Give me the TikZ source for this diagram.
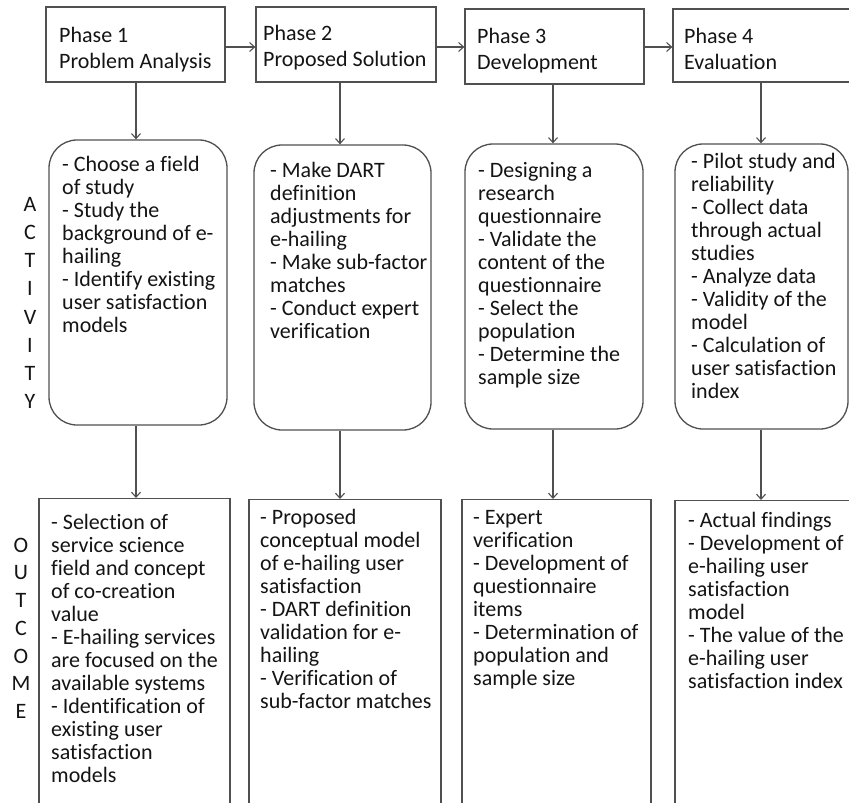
\documentclass[tikz,border=0pt]{standalone}
\usepackage{fontspec}
\setmainfont{Carlito}[Ligatures=NoCommon]
\usetikzlibrary{arrows.meta}
\definecolor{linegray}{RGB}{80,80,80}
\definecolor{txtcol}{RGB}{20,20,20}
\tikzset{
  phasebox/.style={draw=linegray, line width=1.3pt, rectangle, inner sep=0pt},
  actbox/.style={draw=linegray, line width=1.3pt, rectangle, rounded corners=28pt, inner sep=0pt},
  outbox/.style={draw=linegray, line width=1.3pt, rectangle, inner sep=0pt},
  boxtxt/.style={anchor=north west, inner sep=0pt, align=left, text=txtcol, font=\fontsize{22}{23}\selectfont},
  phasetxt/.style={anchor=north west, inner sep=0pt, align=left, text=txtcol, font=\fontsize{22}{26}\selectfont},
  sidetxt/.style={anchor=north, inner sep=0pt, align=center, text=txtcol},
  arr/.style={draw=linegray, line width=1.1pt, -{Straight Barb[length=5pt,width=9pt,line width=1.1pt]}}
}
\begin{document}
\begin{tikzpicture}[x=1pt,y=-1pt]
\useasboundingbox (0,0) rectangle (849,803);
\clip (0,0) rectangle (849,803);
\fill[white] (0,0) rectangle (849,803);

% column and row helpers
\coordinate (c1) at (136,0);
\coordinate (c2) at (340,0);
\coordinate (c3) at (553,0);
\coordinate (c4) at (761,0);
\coordinate (row) at (0,47);

% phase boxes
\node[phasebox, minimum width=179pt, minimum height=75pt] (p1) at (135.5,44.5) {};
\node[phasebox, minimum width=180pt, minimum height=75pt] (p2) at (346,44.5) {};
\node[phasebox, minimum width=179pt, minimum height=75pt] (p3) at (554.5,46.5) {};
\node[phasebox, minimum width=190pt, minimum height=73pt] (p4) at (768,45.5) {};

\node[phasetxt] (pt1) at (59,42-18.2) {\strut Phase 1\\Problem Analysis};
\node[phasetxt] (pt2) at (263,40-18.2) {\strut Phase 2\\Proposed Solution};
\node[phasetxt] (pt3) at (477,43-18.2) {\strut Phase 3\\Development};
\node[phasetxt] (pt4) at (684,43-18.2) {\strut Phase 4\\Evaluation};

% activity boxes
\node[actbox, minimum width=178pt, minimum height=285pt] (a1) at (138,282.5) {};
\node[actbox, minimum width=177pt, minimum height=285pt] (a2) at (342.5,287.5) {};
\node[actbox, minimum width=178pt, minimum height=285pt] (a3) at (554,286.5) {};
\node[actbox, minimum width=173pt, minimum height=285pt] (a4) at (761.5,286.5) {};

\node[boxtxt] (at1) at (62,171-16.1) {\strut - Choose a field\\of study\\- Study the\\background of e-\\hailing\\- Identify existing\\user satisfaction\\models};
\node[boxtxt] (at2) at (270,177-16.1) {\strut - Make DART\\definition\\adjustments for\\e-hailing\\- Make sub-factor\\matches\\- Conduct expert\\verification};
\node[boxtxt] (at3) at (478,177-16.1) {\strut - Designing a\\research\\questionnaire\\- Validate the\\content of the\\questionnaire\\- Select the\\population\\- Determine the\\sample size};
\node[boxtxt] (at4) at (691,168-16.1) {\strut - Pilot study and\\reliability\\- Collect data\\through actual\\studies\\- Analyze data\\- Validity of the\\model\\- Calculation of\\user satisfaction\\index};

% outcome boxes (open at the bottom of the picture)
\node[outbox, minimum width=191pt, minimum height=340pt, anchor=north] (o1) at (134.5,498) {};
\node[outbox, minimum width=192pt, minimum height=340pt, anchor=north] (o2) at (345,499) {};
\node[outbox, minimum width=189pt, minimum height=340pt, anchor=north] (o3) at (556.5,499) {};
\node[outbox, minimum width=200pt, minimum height=340pt, anchor=north] (o4) at (775,500) {};

\node[boxtxt] (ot1) at (51,529-16.1) {\strut - Selection of\\service science\\field and concept\\of co-creation\\value\\- E-hailing services\\are focused on the\\available systems\\- Identification of\\existing user\\satisfaction\\models};
\node[boxtxt] (ot2) at (260,524-16.1) {\strut - Proposed\\conceptual model\\of e-hailing user\\satisfaction\\- DART definition\\validation for e-\\hailing\\- Verification of\\sub-factor matches};
\node[boxtxt] (ot3) at (473,524-16.1) {\strut - Expert\\verification\\- Development of\\questionnaire\\items\\- Determination of\\population and\\sample size};
\node[boxtxt] (ot4) at (688,527-16.1) {\strut - Actual findings\\- Development of\\e-hailing user\\satisfaction\\model\\- The value of the\\e-hailing user\\satisfaction index};

% side labels
\node[sidetxt, font=\fontsize{22}{28.2}\selectfont] (actlbl) at (30,211-19.74) {\strut A\\C\\T\\I\\V\\I\\T\\Y};
\node[sidetxt, font=\fontsize{22}{27.7}\selectfont] (outlbl) at (21,552-19.39) {\strut O\\U\\T\\C\\O\\M\\E};

% horizontal arrows
\draw[arr] (p1.east |- row) -- (p2.west |- row);
\draw[arr] (p2.east |- row) -- (p3.west |- row);
\draw[arr] (p3.east |- row) -- (p4.west |- row);

% vertical arrows phase -> activity
\draw[arr] (p1.south -| c1) -- (a1.north -| c1);
\draw[arr] (p2.south -| c2) -- (a2.north -| c2);
\draw[arr] (p3.south -| c3) -- (a3.north -| c3);
\draw[arr] (p4.south -| c4) -- (a4.north -| c4);

% vertical arrows activity -> outcome
\draw[arr] (a1.south -| c1) -- (o1.north -| c1);
\draw[arr] (a2.south -| c2) -- (o2.north -| c2);
\draw[arr] (a3.south -| c3) -- (o3.north -| c3);
\draw[arr] (a4.south -| c4) -- (o4.north -| c4);
\end{tikzpicture}
\end{document}
